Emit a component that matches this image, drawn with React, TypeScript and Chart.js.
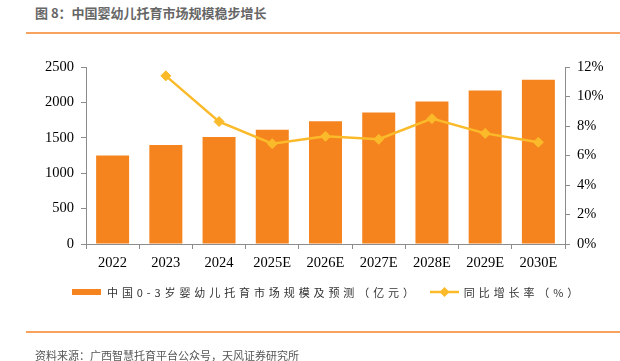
import React, { useEffect, useRef } from "react";
import { Chart, registerables } from "chart.js";

Chart.register(...registerables);

const titleText = "图 8：中国婴幼儿托育市场规模稳步增长";
const sourceText = "资料来源：广西智慧托育平台公众号，天风证券研究所";
const categories = ["2022", "2023", "2024", "2025E", "2026E", "2027E", "2028E", "2029E", "2030E"];
const marketSize = [1250, 1400, 1510, 1615, 1733, 1856, 2011, 2167, 2319];
const growthRate = [null, 11.4, 8.3, 6.8, 7.3, 7.1, 8.5, 7.5, 6.9];
const barLabel = "中国0-3岁婴幼儿托育市场规模及预测（亿元）";
const lineLabel = "同比增长率（%）";

const BAR_COLOR = "#F5841F";
const LINE_COLOR = "#FBBA2A";
const AXIS_COLOR = "#8C8C8C";
const RULE_COLOR = "#F7A25E";
const SERIF = "'Liberation Serif', 'Times New Roman', serif";
const CJK = "'Noto Sans CJK SC', sans-serif";

export default function App() {
  const canvasRef = useRef<HTMLCanvasElement | null>(null);

  useEffect(() => {
    if (!canvasRef.current) return;
    const chart = new Chart(canvasRef.current, {
      type: "bar",
      data: {
        labels: categories,
        datasets: [
          {
            type: "line",
            label: lineLabel,
            data: growthRate,
            yAxisID: "y1",
            borderColor: LINE_COLOR,
            backgroundColor: LINE_COLOR,
            borderWidth: 2.5,
            pointStyle: "rectRot",
            pointRadius: 5,
            pointBorderWidth: 1,
            pointBackgroundColor: LINE_COLOR,
            pointBorderColor: LINE_COLOR,
            tension: 0,
            order: 0,
          } as any,
          {
            type: "bar",
            label: barLabel,
            data: marketSize,
            yAxisID: "y",
            backgroundColor: BAR_COLOR,
            borderWidth: 0,
            categoryPercentage: 1,
            barPercentage: 0.62,
            order: 1,
          },
        ],
      },
      options: {
        responsive: false,
        animation: false,
        layout: { padding: { top: 67, left: 0, right: 0, bottom: 87 } },
        plugins: {
          tooltip: { enabled: false },
          legend: { display: false },
        },
        scales: {
          x: {
            offset: true,
            grid: {
              offset: true,
              drawOnChartArea: false,
              drawTicks: true,
              tickLength: 5,
              color: AXIS_COLOR,
            },
            border: { color: AXIS_COLOR, width: 1 },
            ticks: { color: "#000", padding: 5, font: { family: SERIF, size: 14.5 }, maxRotation: 0 },
            afterFit: (scale: any) => {
              scale.height = 30;
            },
          },
          y: {
            position: "left",
            min: 0,
            max: 2500,
            grid: { drawOnChartArea: false, drawTicks: true, tickLength: 5, color: AXIS_COLOR },
            border: { color: AXIS_COLOR, width: 1 },
            ticks: {
              stepSize: 500,
              color: "#000",
              padding: 7,
              font: { family: SERIF, size: 14.5 },
              callback: (v: any) => String(v),
            },
            afterFit: (scale: any) => {
              scale.width = 86;
            },
          },
          y1: {
            position: "right",
            min: 0,
            max: 12,
            grid: { drawOnChartArea: false, drawTicks: true, tickLength: 5, color: AXIS_COLOR },
            border: { color: AXIS_COLOR, width: 1 },
            ticks: {
              stepSize: 2,
              color: "#000",
              padding: 7,
              font: { family: SERIF, size: 14.5 },
              callback: (v: any) => `${v}%`,
            },
            afterFit: (scale: any) => {
              scale.width = 55;
            },
          },
        },
      },
    });
    return () => chart.destroy();
  }, []);

  const legendText: React.CSSProperties = {
    fontFamily: CJK,
    fontSize: 11,
    letterSpacing: "3.9px",
    color: "#333",
    whiteSpace: "nowrap",
    lineHeight: "18px",
  };

  return (
    <div style={{ position: "absolute", left: 0, top: 0, width: 620, height: 361, background: "#fff", overflow: "hidden" }}>
      <div
        style={{
          position: "absolute",
          left: 35,
          top: 3,
          fontFamily: CJK,
          fontSize: 13,
          fontWeight: 700,
          color: "#666",
          lineHeight: "20px",
          whiteSpace: "nowrap",
        }}
      >
        {titleText}
      </div>
      <div style={{ position: "absolute", left: 26, top: 32, width: 594, height: 2, background: RULE_COLOR }} />
      <canvas ref={canvasRef} width={620} height={361} style={{ position: "absolute", left: 0, top: 0, display: "block" }} />
      <div
        style={{
          position: "absolute",
          left: 72,
          top: 283,
          height: 18,
          display: "flex",
          alignItems: "center",
        }}
      >
        <div style={{ width: 29, height: 6, background: BAR_COLOR }} />
        <span style={{ ...legendText, marginLeft: 6 }}>{barLabel}</span>
        <svg width={29} height={12} style={{ marginLeft: 12, display: "block" }}>
          <line x1={0} y1={6} x2={29} y2={6} stroke={LINE_COLOR} strokeWidth={2.5} />
          <polygon points="9.5,6 14.5,1 19.5,6 14.5,11" fill={LINE_COLOR} />
        </svg>
        <span style={{ ...legendText, marginLeft: 5 }}>{lineLabel}</span>
      </div>
      <div style={{ position: "absolute", left: 26, top: 331, width: 594, height: 1.5, background: RULE_COLOR }} />
      <div
        style={{
          position: "absolute",
          left: 35,
          top: 347,
          fontFamily: CJK,
          fontSize: 11,
          color: "#555",
          lineHeight: "16px",
          whiteSpace: "nowrap",
        }}
      >
        {sourceText}
      </div>
    </div>
  );
}
